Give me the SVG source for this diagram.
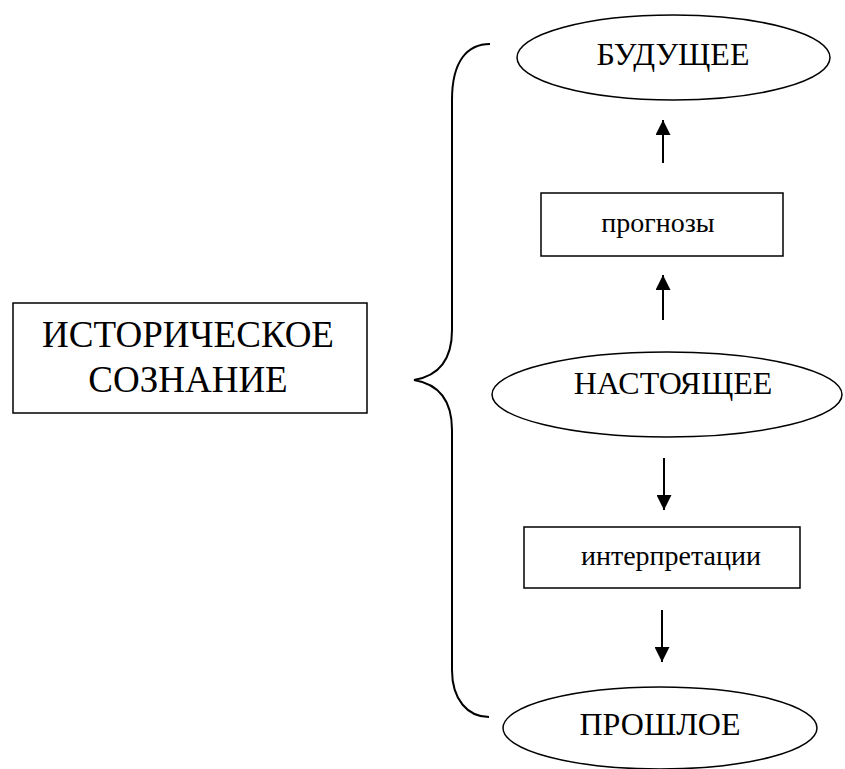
<svg xmlns="http://www.w3.org/2000/svg" width="845" height="769" viewBox="0 0 845 769">
<style>
.s{fill:#fff;stroke:#000;stroke-width:1.5}
.t{font-family:"Liberation Serif","Times New Roman",serif;fill:#000;text-anchor:middle}
.c{fill:none;stroke:#000;stroke-width:2}
</style>
<defs>
<marker id="ah" viewBox="0 0 10 10" refX="10" refY="5" markerWidth="7.5" markerHeight="7.5" markerUnits="strokeWidth" orient="auto">
<path d="M0,0 L10,5 L0,10 z" fill="#000"/>
</marker>
</defs>
<rect width="845" height="769" fill="#fff"/>
<g id="connectors">
<path class="c" d="M490,44 C468,44 452,60 452,100 L452,330 C452,360 438,376 414,380 C438,384 452,400 452,430 L452,670 C452,700 468,717 489,717"/>
<line class="c" x1="663" y1="163" x2="663" y2="120" marker-end="url(#ah)"/>
<line class="c" x1="663" y1="320" x2="663" y2="275" marker-end="url(#ah)"/>
<line class="c" x1="664" y1="458" x2="664" y2="510" marker-end="url(#ah)"/>
<line class="c" x1="662" y1="610" x2="662" y2="662" marker-end="url(#ah)"/>
</g>
<g id="main">
<rect class="s" x="13" y="303" width="354" height="110"/>
<text class="t" x="188" y="347" font-size="37">ИСТОРИЧЕСКОЕ</text>
<text class="t" x="188" y="392" font-size="37">СОЗНАНИЕ</text>
</g>
<g id="future">
<ellipse class="s" cx="673.5" cy="57.5" rx="156.5" ry="42.5"/>
<text class="t" x="673" y="65" font-size="32">БУДУЩЕЕ</text>
</g>
<g id="forecasts">
<rect class="s" x="541" y="193" width="242" height="63"/>
<text class="t" x="658" y="232" font-size="28">прогнозы</text>
</g>
<g id="present">
<ellipse class="s" cx="667" cy="394.5" rx="175" ry="42.5"/>
<text class="t" x="673" y="394" font-size="32">НАСТОЯЩЕЕ</text>
</g>
<g id="interpretations">
<rect class="s" x="524" y="527" width="276" height="61"/>
<text class="t" x="671" y="565" font-size="28">интерпретации</text>
</g>
<g id="past">
<ellipse class="s" cx="660" cy="728" rx="157" ry="41"/>
<text class="t" x="660" y="735" font-size="32">ПРОШЛОЕ</text>
</g>
</svg>
